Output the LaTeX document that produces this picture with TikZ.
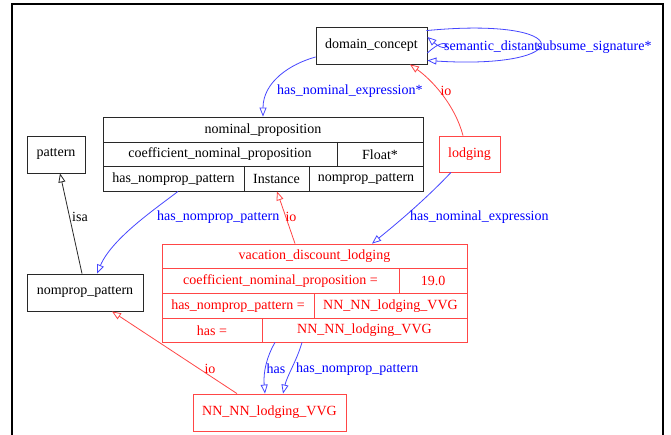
\documentclass[tikz,border=0pt]{standalone}
\usepackage{fontspec}
\setmainfont{Liberation Serif}
\usetikzlibrary{arrows.meta}
\definecolor{eblue}{RGB}{70,70,255}
\definecolor{ered}{RGB}{255,70,70}
\definecolor{tblue}{RGB}{0,0,255}
\definecolor{tred}{RGB}{255,0,0}
\definecolor{bgrey}{RGB}{40,40,40}
\tikzset{
  fs/.style={font=\fontsize{14}{16}\selectfont},
  box/.style={draw=bgrey, line width=0.8pt, rectangle, inner sep=0pt, fs},
  rbox/.style={draw=ered, line width=0.8pt, rectangle, inner sep=0pt, fs, text=tred},
  cell/.style={inner sep=0pt, fs},
  tip/.style={-{Triangle[open,length=9pt,width=7pt]}},
  bedge/.style={tip, draw=eblue, line width=0.8pt},
  redge/.style={tip, draw=ered, line width=0.8pt},
  kedge/.style={tip, draw=bgrey, line width=0.8pt},
  blab/.style={fs, text=tblue, inner sep=0pt},
  rlab/.style={fs, text=tred, inner sep=0pt},
  klab/.style={fs, text=black, inner sep=0pt}
}
\begin{document}
\begin{tikzpicture}[x=1pt,y=-1pt]
\useasboundingbox (0,0) rectangle (671,435);
\fill[white] (0,0) rectangle (671,435);
% frame
\draw[line width=2pt, black] (11.5,436) -- (11.5,4.5) -- (663,4.5) -- (663,436);

% simple nodes
\node[box, minimum width=111pt, minimum height=37pt] (dc) at (371.5,45.5) {domain\_concept};
\node[box, minimum width=58pt, minimum height=37pt] (pat) at (56,154.5) {pattern};
\node[box, minimum width=116pt, minimum height=37pt] (npp) at (85,292.5) {nomprop\_pattern};
\node[rbox, minimum width=61pt, minimum height=36pt] (lod) at (469.5,154) {lodging};
\node[rbox, minimum width=153pt, minimum height=37pt] (nn) at (269.5,412.5) {NN\_NN\_lodging\_VVG};

% record nominal_proposition
\node[box, minimum width=320pt, minimum height=74pt] (np) at (263,154) {};
\draw[bgrey, line width=0.8pt] (103,142) -- (423,142);
\draw[bgrey, line width=0.8pt] (103,166) -- (423,166);
\draw[bgrey, line width=0.8pt] (337,142) -- (337,166);
\draw[bgrey, line width=0.8pt] (244,166) -- (244,191);
\draw[bgrey, line width=0.8pt] (309,166) -- (309,191);
\node[cell] (np1) at (263,130) {nominal\_proposition};
\node[cell] (np2) at (220,154.5) {coefficient\_nominal\_proposition};
\node[cell] (np3) at (380,154.5) {Float*};
\node[cell] (np4) at (173.5,179) {has\_nomprop\_pattern};
\node[cell] (np5) at (276.5,179) {Instance};
\node[cell] (np6) at (366,179) {nomprop\_pattern};

% record vacation_discount_lodging
\node[rbox, minimum width=305pt, minimum height=98pt] (vdl) at (314.5,293) {};
\draw[ered, line width=0.8pt] (162,268) -- (467,268);
\draw[ered, line width=0.8pt] (162,293) -- (467,293);
\draw[ered, line width=0.8pt] (162,318) -- (467,318);
\draw[ered, line width=0.8pt] (399,268) -- (399,293);
\draw[ered, line width=0.8pt] (314,293) -- (314,318);
\draw[ered, line width=0.8pt] (262,318) -- (262,342);
\node[cell, text=tred] (v1) at (314.5,256.5) {vacation\_discount\_lodging};
\node[cell, text=tred] (v2) at (280.5,281) {coefficient\_nominal\_proposition =};
\node[cell, text=tred] (v3) at (433,281) {19.0};
\node[cell, text=tred] (v4) at (238,306) {has\_nomprop\_pattern =};
\node[cell, text=tred] (v5) at (390.5,306) {NN\_NN\_lodging\_VVG};
\node[cell, text=tred] (v6) at (212,330.5) {has =};
\node[cell, text=tred] (v7) at (364.5,330.5) {NN\_NN\_lodging\_VVG};

% self loops on domain_concept
\draw[bedge] ([yshift=-7.5pt]dc.east) .. controls (452,30) and (452,58) .. ([yshift=8.5pt]dc.east);
\draw[bedge] ([xshift=-1pt,yshift=-4pt]dc.north east) .. controls (578,16) and (578,70) .. ([yshift=-15pt]dc.east);
\node[blab, anchor=west] (l1) at (444,47) {semantic\_distant};
\node[blab, anchor=west] (l2) at (537,47) {subsume\_signature*};

% domain_concept -> nominal_proposition
\draw[bedge] ([yshift=-11.5pt]dc.west) .. controls (290,64) and (263,82) .. (np.north);
\node[blab, anchor=west] (l3) at (277,91) {has\_nominal\_expression*};

% lodging -> domain_concept
\draw[redge] ([xshift=-6.5pt]lod.north) .. controls (455,105) and (432,80) .. ([xshift=38.5pt]dc.south);
\node[rlab] (l4) at (446,91) {io};

% lodging -> vdl
\draw[bedge] ([xshift=-18.5pt]lod.south) .. controls (425,200) and (395,225) .. ([xshift=57.5pt]vdl.north);
\node[blab, anchor=west] (l5) at (410,217) {has\_nominal\_expression};

% nominal_proposition -> nomprop_pattern
\draw[bedge] ([xshift=-85pt]np.south) .. controls (158,207) and (112,238) .. ([xshift=12pt]npp.north);
\node[blab, anchor=west] (l6) at (157,217) {has\_nomprop\_pattern};

% vdl -> nominal_proposition (Instance)
\draw[redge] ([xshift=-19.5pt]vdl.north) -- ([xshift=14pt]np.south);
\node[rlab] (l7) at (291,217) {io};

% nomprop_pattern -> pattern
\draw[kedge] ([xshift=-3pt]npp.north) -- ([xshift=4pt]pat.south);
\node[klab] (l8) at (80,217) {isa};

% NN -> nomprop_pattern
\draw[redge] ([xshift=-32.5pt]nn.north) -- ([xshift=27pt]npp.south);
\node[rlab] (l9) at (210,369) {io};

% vdl -> NN
\draw[bedge] ([xshift=-39.5pt]vdl.south) .. controls (267,356) and (263,372) .. ([xshift=-4.5pt]nn.north);
\node[blab] (l10) at (276,369) {has};
\draw[bedge] ([xshift=-12.5pt]vdl.south) .. controls (297,360) and (287,376) .. ([xshift=13.5pt]nn.north);
\node[blab, anchor=west] (l11) at (296,369) {has\_nomprop\_pattern};
\end{tikzpicture}
\end{document}
